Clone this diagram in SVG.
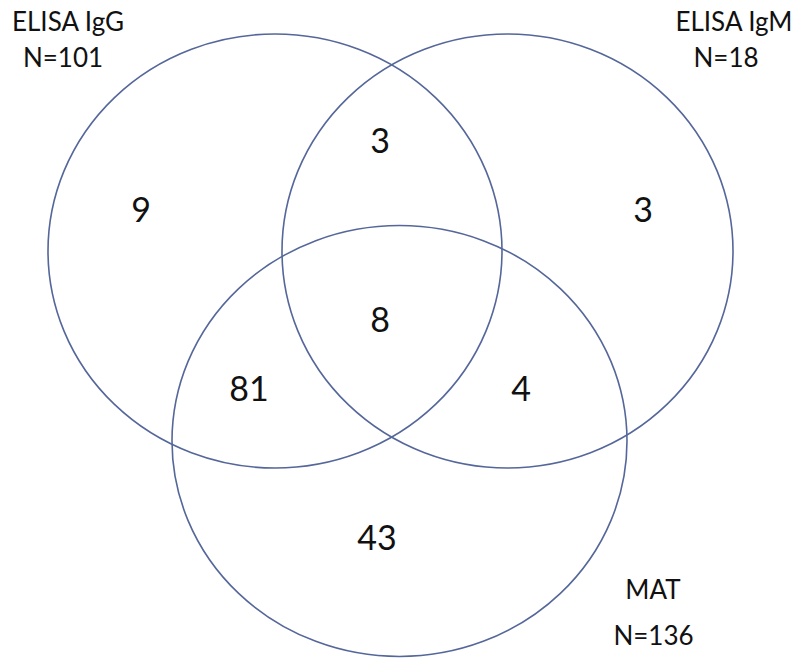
<svg xmlns="http://www.w3.org/2000/svg" width="794" height="659" viewBox="0 0 794 659">
<style>
.set{fill:none;stroke:#55679a;stroke-width:1.6}
.lbl{font-family:Lato,"Liberation Sans",sans-serif;font-size:26px;fill:#111;text-anchor:middle}
.num{font-family:Lato,"Liberation Sans",sans-serif;font-size:34px;fill:#111;text-anchor:middle}
</style>
<rect width="794" height="659" fill="#fff"/>
<g id="igg">
<ellipse class="set" cx="275" cy="251" rx="227" ry="217"/>
<text class="lbl" x="68" y="31">ELISA IgG</text>
<text class="lbl" x="63" y="67">N=101</text>
</g>
<g id="igm">
<ellipse class="set" cx="507.5" cy="251" rx="225.5" ry="217"/>
<text class="lbl" x="734" y="31">ELISA IgM</text>
<text class="lbl" x="726" y="67">N=18</text>
</g>
<g id="mat">
<ellipse class="set" cx="399.5" cy="441" rx="227.5" ry="215.5"/>
<text class="lbl" x="653" y="599">MAT</text>
<text class="lbl" x="653.5" y="645">N=136</text>
</g>
<g id="counts">
<text class="num" x="141" y="222">9</text>
<text class="num" x="380" y="153">3</text>
<text class="num" x="643" y="222">3</text>
<text class="num" x="380" y="332">8</text>
<text class="num" x="249" y="401">81</text>
<text class="num" x="521" y="401">4</text>
<text class="num" x="377" y="550">43</text>
</g>
</svg>
